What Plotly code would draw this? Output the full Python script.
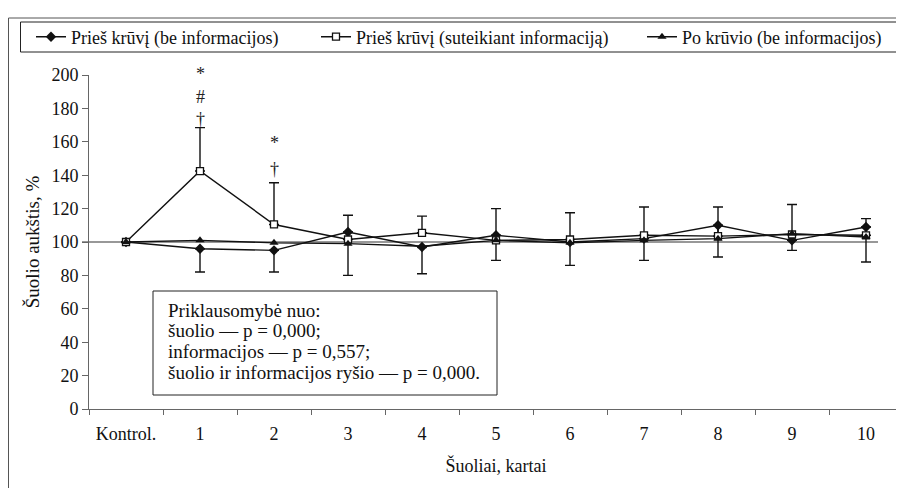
import plotly.graph_objects as go

categories = ["Kontrol.", "1", "2", "3", "4", "5", "6", "7", "8", "9", "10"]

be_info = [100, 96, 95, 106, 97, 104, 100, 102, 110, 101, 109]
be_info_minus = [None, 14, 13, 26, 16, 15, 14, 13, 19, 6, 21]

su_info = [100, 142.5, 110.5, 101.5, 105.5, 101, 101.5, 104, 103.5, 104.5, 104]
su_info_plus = [None, 26, 25, 14.5, 10, 19, 16, 17, 17.5, 18, 10]

po_kruvio = [100, 101, 99.5, 99, 97.5, 101, 99.5, 101, 102, 105, 103]

y_ticks = [0, 20, 40, 60, 80, 100, 120, 140, 160, 180, 200]

sig_x = ["1", "1", "1", "2", "2"]
sig_y = [200.5, 186.8, 173.6, 159.3, 143.7]
sig_t = ["*", "#", "†", "*", "†"]

box_lines = ["Priklausomybė nuo:", "šuolio — p = 0,000;", "informacijos — p = 0,557;",
             "šuolio ir informacijos ryšio — p = 0,000."]

FONT = "Liberation Serif, Times New Roman, Times, serif"
INK = "#111111"

# the page body has an 8px margin; the figure is sized so it fills the window
OFF = 8
FIG_W, FIG_H = 904 - OFF, 488 - OFF
# plot area in window pixels
L, R, T, B = 89, 903, 75, 409


def px_x(p):
    return (p - L) / (R - L)


def px_y(p):
    return (B - p) / (B - T)


minus_zero = [None if v is None else 0 for v in be_info_minus]
plus_zero = [None if v is None else 0 for v in su_info_plus]

fig = go.Figure()

fig.add_trace(go.Scatter(
    x=categories, y=be_info, mode="lines+markers",
    name="Prieš krūvį (be informacijos)", legend="legend",
    line=dict(color=INK, width=1.4),
    marker=dict(symbol="diamond", size=8, color=INK),
    error_y=dict(type="data", symmetric=False, array=minus_zero,
                 arrayminus=be_info_minus, color=INK, thickness=1.4, width=5),
))
fig.add_trace(go.Scatter(
    x=categories, y=su_info, mode="lines+markers",
    name="Prieš krūvį (suteikiant informaciją)", legend="legend2",
    line=dict(color=INK, width=1.4),
    marker=dict(symbol="square", size=7, color="white",
                line=dict(color=INK, width=1.3)),
    error_y=dict(type="data", symmetric=False, array=su_info_plus,
                 arrayminus=plus_zero, color=INK, thickness=1.4, width=5),
))
fig.add_trace(go.Scatter(
    x=categories, y=po_kruvio, mode="lines+markers",
    name="Po krūvio (be informacijos)", legend="legend3",
    line=dict(color=INK, width=1.4),
    marker=dict(symbol="triangle-up", size=8, color=INK),
))

# baseline at 100 %
fig.add_shape(type="line", xref="paper", yref="y", x0=px_x(82), x1=px_x(878), y0=100, y1=100,
              line=dict(color="#333333", width=1.2), layer="below")

# outer frame
fig.add_shape(type="rect", xref="paper", yref="paper",
              x0=px_x(8.5), x1=px_x(910), y0=px_y(495), y1=px_y(18),
              line=dict(color="#555555", width=1))

# legend frame
fig.add_shape(type="rect", xref="paper", yref="paper",
              x0=px_x(20.5), x1=px_x(897), y0=px_y(52), y1=px_y(22),
              line=dict(color="#222222", width=1))

# significance marks
for xv, yv, t in zip(sig_x, sig_y, sig_t):
    fig.add_annotation(x=xv, xref="x", y=yv / 200, yref="paper", text=t, showarrow=False,
                       xanchor="center", yanchor="middle",
                       font=dict(family=FONT, size=18, color="#222222"))

# statistics box
fig.add_shape(type="rect", xref="paper", yref="paper",
              x0=px_x(153), x1=px_x(497), y0=px_y(395), y1=px_y(291),
              line=dict(color="#222222", width=1), fillcolor="white", layer="above")
for i, line_text in enumerate(box_lines):
    fig.add_annotation(xref="paper", yref="paper", x=px_x(166), y=px_y(310 + i * 20.7),
                       xanchor="left", yanchor="middle", text=line_text, showarrow=False,
                       font=dict(family=FONT, size=19, color=INK))

legend_common = dict(orientation="h", xanchor="left", yanchor="middle", y=px_y(37),
                     borderwidth=0, bgcolor="rgba(0,0,0,0)",
                     font=dict(family=FONT, size=18, color=INK))

fig.update_layout(
    width=FIG_W, height=FIG_H,
    margin=dict(l=L - OFF, r=FIG_W - (R - OFF), t=T - OFF, b=FIG_H - (B - OFF),
                autoexpand=False),
    paper_bgcolor="white", plot_bgcolor="white",
    font=dict(family=FONT, size=18, color=INK),
    showlegend=True,
    legend=dict(x=px_x(31), **legend_common),
    legend2=dict(x=px_x(316), **legend_common),
    legend3=dict(x=px_x(642), **legend_common),
    xaxis=dict(type="category", categoryorder="array", categoryarray=categories,
               range=[-0.5, 10.5], tickson="boundaries", ticks="outside", ticklen=5,
               tickcolor="#666666", showline=True, linecolor="#666666", linewidth=1,
               showgrid=False, zeroline=False, ticklabelstandoff=8, automargin=False,
               title=dict(text="Šuoliai, kartai", standoff=16,
                          font=dict(family=FONT, size=18))),
    yaxis=dict(range=[0, 200], tickvals=y_ticks, ticks="outside", ticklen=6,
               tickcolor="#666666", showline=True, linecolor="#666666", linewidth=1,
               showgrid=False, zeroline=False, automargin=False,
               title=dict(text="Šuolio aukštis, %", standoff=6,
                          font=dict(family=FONT, size=19))),
)

fig.write_html("out.html")
